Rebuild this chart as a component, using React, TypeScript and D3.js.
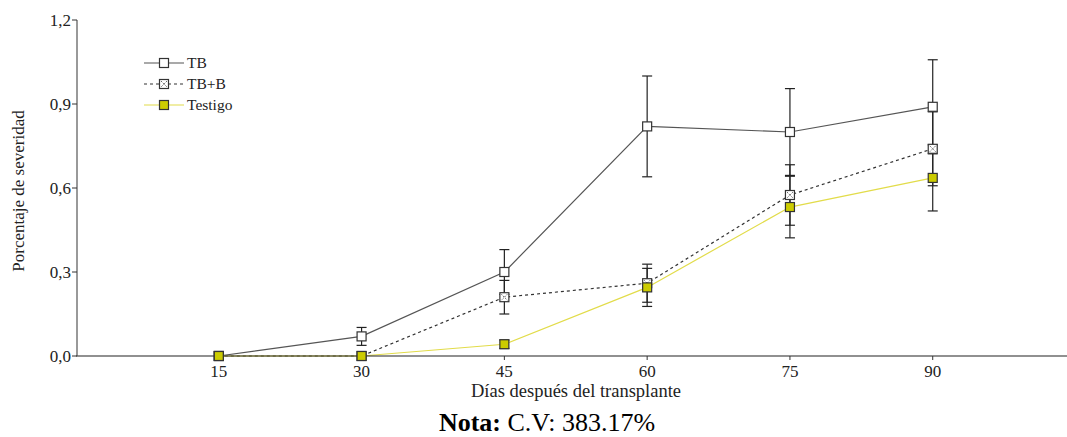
import React from "react";
import * as d3 from "d3";

// data
const days = [15, 30, 45, 60, 75, 90];
const tbValues = [0, 0.07, 0.3, 0.82, 0.8, 0.89];
const tbErrors = [0, 0.032, 0.08, 0.18, 0.155, 0.168];
const tbbValues = [0, 0, 0.21, 0.26, 0.575, 0.74];
const tbbErrors = [0, 0, 0.06, 0.068, 0.108, 0.132];
const testigoValues = [0, 0, 0.042, 0.245, 0.532, 0.636];
const testigoErrors = [0, 0, 0.015, 0.068, 0.11, 0.118];
const yTicks = [0, 0.3, 0.6, 0.9, 1.2];

const series = [
  { name: "TB", values: tbValues, errors: tbErrors, line: "#555", dash: null, fill: "#ffffff", cross: false },
  { name: "TB+B", values: tbbValues, errors: tbbErrors, line: "#333", dash: "3,3", fill: "#ffffff", cross: true },
  { name: "Testigo", values: testigoValues, errors: testigoErrors, line: "#e2dc4a", dash: null, fill: "#cccc00", cross: false },
];

const W = 1067;
const H = 437;
const FONT = "'Liberation Serif', 'Times New Roman', serif";

const Marker = ({ cx, cy, s }: { cx: number; cy: number; s: any }) => {
  const h = 4.5;
  return (
    <g>
      <rect x={cx - h} y={cy - h} width={h * 2} height={h * 2} fill={s.fill} stroke="#333" strokeWidth={1.2} />
      {s.cross && (
        <g stroke="#666" strokeWidth={1} strokeDasharray="1.5,1">
          <line x1={cx - h + 1.5} y1={cy - h + 1.5} x2={cx + h - 1.5} y2={cy + h - 1.5} />
          <line x1={cx + h - 1.5} y1={cy - h + 1.5} x2={cx - h + 1.5} y2={cy + h - 1.5} />
        </g>
      )}
    </g>
  );
};

export default function App() {
  const x = d3.scaleLinear().domain([0, 104]).range([76, 1066]);
  const y = d3.scaleLinear().domain([0, 1.2]).range([356, 20]);
  const fmt = (v: number) => d3.format(".1f")(v).replace(".", ",");

  return (
    <div style={{ position: "absolute", left: 0, top: 0 }}>
      <svg width={W} height={H} style={{ display: "block", background: "#fff" }} fontFamily={FONT}>
        {/* series lines */}
        {series.map((s) => {
          const line = d3
            .line<number>()
            .x((_, i) => x(days[i]))
            .y((v) => y(v));
          return (
            <path
              key={s.name}
              d={line(s.values) || ""}
              fill="none"
              stroke={s.line}
              strokeWidth={1.2}
              strokeDasharray={s.dash || undefined}
            />
          );
        })}

        {/* error bars */}
        {series.map((s) =>
          s.values.map((v, i) =>
            s.errors[i] > 0 ? (
              <g key={s.name + i} stroke="#222" strokeWidth={1.2}>
                <line x1={x(days[i])} x2={x(days[i])} y1={y(v - s.errors[i])} y2={y(v + s.errors[i])} />
                <line x1={x(days[i]) - 5} x2={x(days[i]) + 5} y1={y(v - s.errors[i])} y2={y(v - s.errors[i])} />
                <line x1={x(days[i]) - 5} x2={x(days[i]) + 5} y1={y(v + s.errors[i])} y2={y(v + s.errors[i])} />
              </g>
            ) : null
          )
        )}

        {/* axes */}
        <line x1={x(0)} x2={W} y1={y(0)} y2={y(0)} stroke="#222" strokeWidth={1.2} />
        <line x1={x(0) + 1} x2={x(0) + 1} y1={y(1.2)} y2={y(0)} stroke="#555" strokeWidth={1.2} />
        {yTicks.map((t) => (
          <g key={t}>
            <line x1={x(0) - 4} x2={x(0) + 1} y1={y(t)} y2={y(t)} stroke="#333" />
            <text x={x(0) - 5} y={y(t)} dy="0.35em" textAnchor="end" fontSize={17} fill="#222">
              {fmt(t)}
            </text>
          </g>
        ))}
        {days.map((d) => (
          <g key={d}>
            <line x1={x(d)} x2={x(d)} y1={y(0)} y2={y(0) + 4} stroke="#333" />
            <text x={x(d)} y={y(0) + 21} textAnchor="middle" fontSize={17} fill="#222">
              {d}
            </text>
          </g>
        ))}

        {/* markers, Testigo drawn last so it sits on top */}
        {series.map((s) =>
          s.values.map((v, i) => <Marker key={s.name + "m" + i} cx={x(days[i])} cy={y(v)} s={s} />)
        )}

        {/* legend */}
        {series.map((s, i) => {
          const ly = 63 + i * 21;
          return (
            <g key={s.name + "lg"}>
              <line x1={144} x2={184} y1={ly} y2={ly} stroke={s.line} strokeWidth={1.2} strokeDasharray={s.dash || undefined} />
              <Marker cx={164} cy={ly} s={s} />
              <text x={187} y={ly} dy="0.35em" fontSize={15.5} fill="#222">
                {s.name}
              </text>
            </g>
          );
        })}

        {/* titles */}
        <text transform={`translate(24, ${y(0.6) + 3}) rotate(-90)`} textAnchor="middle" fontSize={17} fill="#222">
          Porcentaje de severidad
        </text>
        <text x={576} y={397} textAnchor="middle" fontSize={18.5} fill="#222">
          Días después del transplante
        </text>
        <text x={547} y={431} textAnchor="middle" fontSize={26} fill="#000">
          <tspan fontWeight="bold">Nota:</tspan> C.V: 383.17%
        </text>
      </svg>
    </div>
  );
}
